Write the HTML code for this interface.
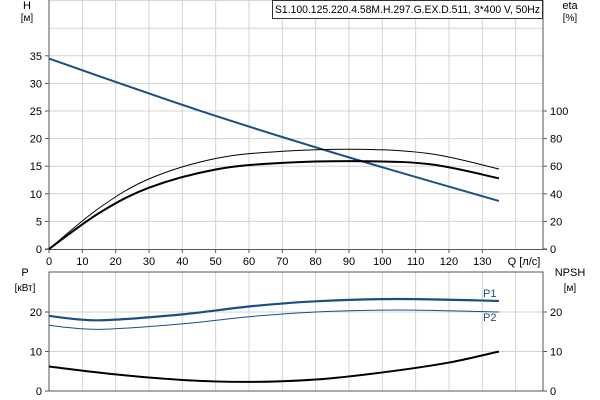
<!DOCTYPE html>
<html><head><meta charset="utf-8"><style>
body{margin:0;background:#fff}
svg{display:block;font-family:"Liberation Sans",sans-serif;font-size:11px}
</style></head><body>
<svg id="s" width="600" height="400" xmlns="http://www.w3.org/2000/svg"></svg>
<script>
const s=document.getElementById('s');let h='';
const X=q=>49+q*3.333, YT=v=>249-v*5.52, YB=v=>391-v*3.95;
for(let i=1;i<=14;i++)h+=`<line x1="${X(i*10)}" y1="0" x2="${X(i*10)}" y2="249" stroke="#d4d4d4"/>`;
for(let i=1;i<=9;i++)h+=`<line x1="49" y1="${YT(i*5)}" x2="543" y2="${YT(i*5)}" stroke="#d4d4d4"/>`;
for(let i=1;i<=14;i++)h+=`<line x1="${X(i*10)}" y1="272" x2="${X(i*10)}" y2="391" stroke="#d4d4d4"/>`;
for(let i=1;i<=2;i++)h+=`<line x1="49" y1="${YB(i*10)}" x2="543" y2="${YB(i*10)}" stroke="#d4d4d4"/>`;
h+=`<line x1="49" y1="0" x2="49" y2="250" stroke="#555"/><line x1="543" y1="0" x2="543" y2="250" stroke="#555"/><line x1="45" y1="249.5" x2="547" y2="249.5" stroke="#555"/>`;
h+=`<rect x="49" y="272" width="494" height="119" fill="none" stroke="#555"/>`;
for(let i=0;i<=7;i++){h+=`<line x1="45" y1="${YT(i*5)}" x2="49" y2="${YT(i*5)}" stroke="#555"/><text x="42" y="${YT(i*5)+4}" text-anchor="end">${i*5}</text>`;}
for(let i=0;i<=5;i++){let y=249-i*27.6;h+=`<line x1="543" y1="${y}" x2="547" y2="${y}" stroke="#555"/><text x="550" y="${y+4}">${i*20}</text>`;}
for(let i=0;i<=13;i++){h+=`<line x1="${X(i*10)}" y1="249" x2="${X(i*10)}" y2="253" stroke="#555"/><text x="${X(i*10)}" y="265" text-anchor="middle">${i*10}</text>`;}
h+=`<text x="524" y="265" text-anchor="middle">Q [л/с]</text>`;
h+=`<text x="27" y="9" text-anchor="middle">H</text><text x="27" y="21" text-anchor="middle" font-size="10">[м]</text>`;
h+=`<text x="570" y="9" text-anchor="middle">eta</text><text x="570" y="21" text-anchor="middle" font-size="10">[%]</text>`;
h+=`<rect x="272.5" y="0.5" width="270" height="18" fill="#fff" stroke="#333"/><text x="275" y="13" textLength="265" lengthAdjust="spacingAndGlyphs">S1.100.125.220.4.58M.H.297.G.EX.D.511, 3*400 V, 50Hz</text>`;
for(let i=0;i<=2;i++){let y=YB(i*10);h+=`<line x1="45" y1="${y}" x2="49" y2="${y}" stroke="#555"/><text x="42" y="${y+4}" text-anchor="end">${i*10}</text><line x1="543" y1="${y}" x2="547" y2="${y}" stroke="#555"/><text x="550" y="${y+4}">${i*10}</text>`;}
h+=`<text x="25" y="276" text-anchor="middle">P</text><text x="25" y="291" text-anchor="middle" font-size="10">[кВт]</text>`;
h+=`<text x="570" y="276" text-anchor="middle">NPSH</text><text x="570" y="291" text-anchor="middle" font-size="10">[м]</text>`;
h+=`<text x="483" y="297" fill="#1a4f86">P1</text><text x="483" y="321" fill="#1a4f86">P2</text>`;
function curve(pts,Y,col,w){
 let P=pts.map(p=>[X(p[0]),Y(p[1])]);let d=`M${P[0][0]},${P[0][1]}`;
 for(let i=0;i<P.length-1;i++){let p0=P[i-1]||P[i],p1=P[i],p2=P[i+1],p3=P[i+2]||p2;
 d+=` C${p1[0]+(p2[0]-p0[0])/6},${p1[1]+(p2[1]-p0[1])/6} ${p2[0]-(p3[0]-p1[0])/6},${p2[1]-(p3[1]-p1[1])/6} ${p2[0]},${p2[1]}`;}
 h+=`<path d="${d}" fill="none" stroke="${col}" stroke-width="${w}"/>`;}
curve([[0,34.5],[45,25.1],[90,16.6],[135,8.7]],YT,'#1a4f86',2);
curve([[0,0],[15,7.4],[30,12.7],[50,16.4],[70,17.7],[95,18.05],[115,17.2],[135,14.5]],YT,'#000',1);
curve([[0,0],[15,6.5],[30,11.1],[50,14.4],[70,15.6],[95,15.9],[115,15.3],[135,12.8]],YT,'#000',2);
curve([[0,19],[15,17.9],[40,19.4],[60,21.4],[80,22.7],[105,23.3],[135,22.8]],YB,'#1a4f86',2.2);
curve([[0,16.6],[15,15.6],[40,17],[60,18.8],[80,20],[105,20.5],[135,20]],YB,'#1a4f86',1);
curve([[0,6.2],[20,4.2],[40,2.8],[60,2.3],[80,2.9],[100,4.7],[120,7.2],[135,10]],YB,'#000',2);
s.innerHTML=h;
</script>
</body></html>
